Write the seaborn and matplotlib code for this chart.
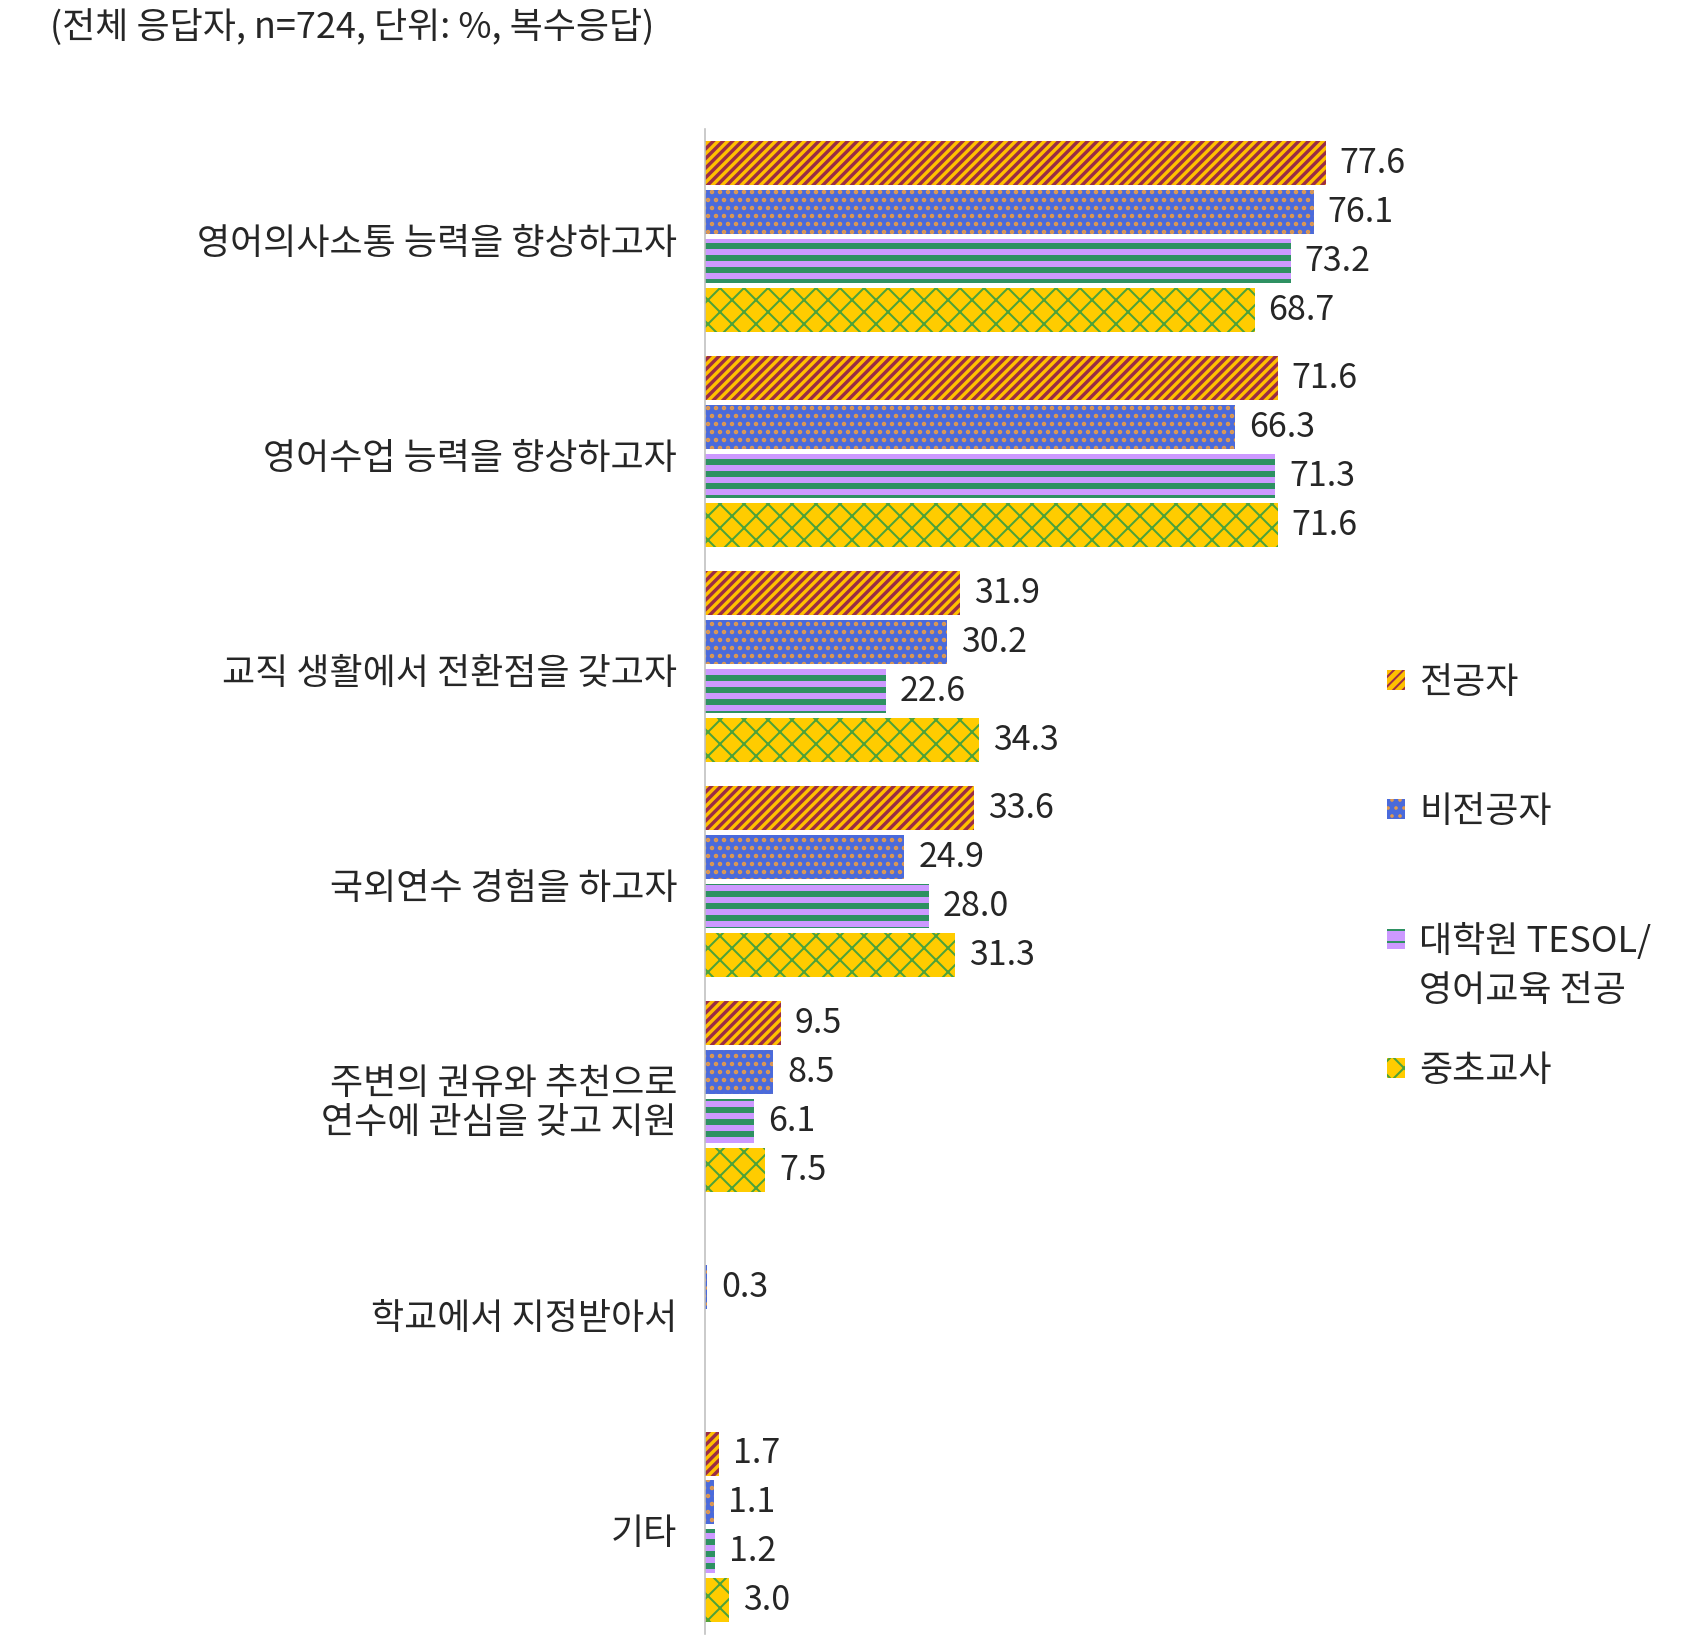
import numpy as np
import pandas as pd
import matplotlib
matplotlib.use('Agg')
import matplotlib.pyplot as plt
import matplotlib.patches as mpatches
import matplotlib.transforms as mtransforms
import seaborn as sns

# data
categories = ['영어의사소통 능력을 향상하고자', '영어수업 능력을 향상하고자',
              '교직 생활에서 전환점을 갖고자', '국외연수 경험을 하고자',
              '주변의 권유와 추천으로\n연수에 관심을 갖고 지원',
              '학교에서 지정받아서', '기타']
groups = ['전공자', '비전공자', '대학원 TESOL/영어교육 전공', '중초교사']
major = [77.6, 71.6, 31.9, 33.6, 9.5, np.nan, 1.7]
non_major = [76.1, 66.3, 30.2, 24.9, 8.5, 0.3, 1.1]
grad_tesol = [73.2, 71.3, 22.6, 28.0, 6.1, np.nan, 1.2]
teachers = [68.7, 71.6, 34.3, 31.3, 7.5, np.nan, 3.0]

faces = ['#FFC000', '#4A6ADB', '#CC99FF', '#FFCC00']
hatch_colors = ['#9B2D45', '#E39A4C', '#2E9162', '#4CA23A']
hatches = ['/////', '...', '--', 'xx']
hatch_lw = [1.7, 1.4, 3.0, 1.0]

rows = []
for g, vals in zip(groups, [major, non_major, grad_tesol, teachers]):
    for c, v in zip(categories, vals):
        rows.append({'category': c, 'group': g, 'value': v})
df = pd.DataFrame(rows).dropna()

sns.set_style('white')
plt.rcParams['font.family'] = ['Noto Sans CJK KR', 'DejaVu Sans']

DPI = 144
W, H = 1686, 1646
fig = plt.figure(figsize=(W / DPI, H / DPI), dpi=DPI)
ax = fig.add_axes([705 / W, 0.00705, 80 * 8.0 / W, 0.9144])

sns.barplot(data=df, y='category', x='value', hue='group', orient='h',
            order=categories, hue_order=groups, palette=faces,
            saturation=1, width=0.91, gap=0.1, errorbar=None,
            legend=False, ax=ax)

def style_patch(p, i):
    p.set_facecolor(faces[i])
    p.set_edgecolor(hatch_colors[i])
    p.set_linewidth(0)
    p.set_hatch(hatches[i])
    if hasattr(p, 'set_hatch_linewidth'):
        p.set_hatch_linewidth(hatch_lw[i])

for i, cont in enumerate(ax.containers):
    for p in cont.patches:
        style_patch(p, i)
    ax.bar_label(cont, labels=[f'{v:.1f}' for v in cont.datavalues],
                 padding=7, fontsize=17)

ax.set_xlim(0, 80)
ax.set_ylim(6.5, -0.5)
ax.xaxis.set_visible(False)
ax.set_ylabel('')
for s in ['top', 'right', 'bottom']:
    ax.spines[s].set_visible(False)
ax.spines['left'].set_color('#BFBFBF')
ax.spines['left'].set_linewidth(0.8)
ax.set_yticks(np.arange(-0.5, 7, 1), minor=True)
ax.tick_params(axis='y', which='major', length=0, pad=14, labelsize=18)
ax.tick_params(axis='y', which='minor', length=9.5, width=0.8,
               direction='in', color='#BFBFBF')
shift = mtransforms.ScaledTranslation(0, -3.5 / 72, fig.dpi_scale_trans)
for t in ax.get_yticklabels():
    t.set_horizontalalignment('right')
    t.set_verticalalignment('center')
    t.set_linespacing(1.1)
    t.set_transform(t.get_transform() + shift)

# legend
handles = []
for i in range(4):
    h = mpatches.Patch(facecolor=faces[i], edgecolor=hatch_colors[i],
                       hatch=hatches[i], linewidth=0)
    if hasattr(h, 'set_hatch_linewidth'):
        h.set_hatch_linewidth(hatch_lw[i])
    handles.append(h)
leg_labels = ['전공자', '비전공자', '대학원 TESOL/', '중초교사']
leg = fig.legend(handles, leg_labels, loc='upper left',
                 bbox_to_anchor=(1387 / W, 1 - 665 / H),
                 frameon=False, fontsize=18, handlelength=0.5,
                 handleheight=0.5, handletextpad=0.4, labelspacing=2.58,
                 borderpad=0, borderaxespad=0)

fig.text(50 / W, 1 - 27 / H, '(전체 응답자, n=724, 단위: %, 복수응답)',
         ha='left', va='center', fontsize=18)

# second line of the third legend entry
fig.canvas.draw()
bb = leg.get_texts()[2].get_window_extent()
fig.text(bb.x0 / W, ((bb.y0 + bb.y1) / 2 - 50) / H, '영어교육 전공',
         ha='left', va='center', fontsize=18)

fig.savefig('out.png', dpi=DPI)
